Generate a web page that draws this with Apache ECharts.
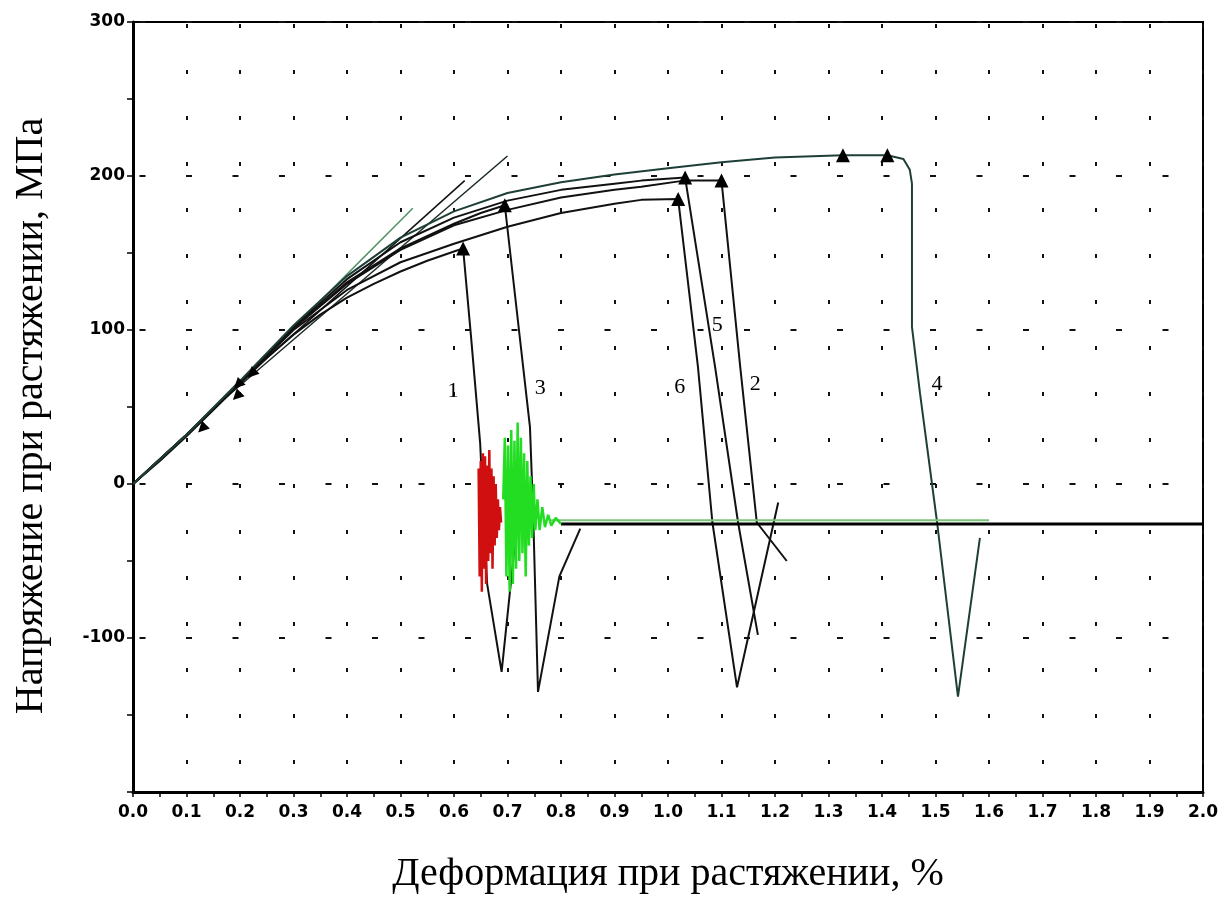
<!DOCTYPE html>
<html lang="ru">
<head>
<meta charset="UTF-8">
<title>Деформация при растяжении</title>
<script src="https://cdn.jsdelivr.net/npm/echarts@6/dist/echarts.min.js"></script>
<style>
  html, body { margin: 0; padding: 0; background: #fff; }
  #main { width: 1229px; height: 899px; }
</style>
</head>
<body>
<div id="main"></div>
<script>
// образцы 1..6: подъём до пика, затем разрыв
var curve1 = [[0,0],[0.05,15],[0.1,31],[0.15,48],[0.2,65],[0.25,82],[0.3,97],[0.35,110],[0.4,121],[0.45,130],[0.5,138],[0.55,145],[0.6,151],[0.617,153],
  [0.632,95],[0.649,26],[0.655,-20],[0.662,-65],[0.689,-122],[0.712,-45],[0.72,-25]];
var curve3 = [[0,0],[0.1,32],[0.2,66],[0.3,101],[0.4,131],[0.5,153],[0.6,169],[0.65,176],[0.695,181],
  [0.742,37],[0.748,-20],[0.757,-135],[0.797,-60],[0.836,-29]];
var curve6 = [[0,0],[0.1,32],[0.2,66],[0.3,100],[0.4,126],[0.5,144],[0.6,156],[0.7,167],[0.8,176],[0.9,182],[0.95,184.5],[1.019,185],
  [1.056,76],[1.083,-25],[1.129,-132],[1.206,-12]];
var curve5 = [[0,0],[0.1,32],[0.2,66],[0.3,102],[0.4,133],[0.5,157],[0.6,173],[0.7,184],[0.8,191],[0.9,195],[0.95,197],[1.032,199],
  [1.088,76],[1.131,-25],[1.168,-98]];
var curve2 = [[0,0],[0.1,32],[0.2,66],[0.3,101],[0.4,130],[0.5,152],[0.6,168],[0.7,178],[0.8,186],[0.9,191],[0.95,193],[1.03,197],[1.10,197],
  [1.135,76],[1.166,-25],[1.222,-50]];
var curve4 = [[0,0],[0.1,32],[0.2,67],[0.3,103],[0.4,135],[0.5,160],[0.6,177],[0.7,189],[0.8,196],[0.9,201],[1.0,205],[1.1,209],[1.2,212],[1.327,213.5],[1.41,213.5],
  [1.44,211],[1.452,204],[1.456,195],[1.456,102],[1.471,59],[1.503,-25],[1.542,-138],[1.583,-35]];

// прямые участки (модуль)
var lineA = [[0.17,55],[0.70,213]];
var lineB = [[0.2,66],[0.62,197]];
var lineC = [[0.25,84],[0.523,179]];

// колебания после разрыва
var redNoise = [[0.646,10],[0.648,-60],[0.650,15],[0.652,-70],[0.654,20],[0.656,-55],[0.658,18],[0.660,-65],[0.662,12],[0.664,-50],[0.666,22],
  [0.668,-45],[0.670,10],[0.672,-55],[0.674,5],[0.676,-40],[0.678,0],[0.680,-35],[0.682,-10],[0.684,-30],[0.686,-15],[0.688,-25]];
var greenNoise = [[0.692,-10],[0.695,30],[0.698,-60],[0.701,25],[0.704,-70],[0.707,35],[0.710,-65],[0.713,28],[0.716,-55],[0.719,40],[0.722,-50],
  [0.725,30],[0.728,-45],[0.731,20],[0.734,-60],[0.737,15],[0.740,-40],[0.743,5],[0.746,-35],[0.749,0],[0.752,-30],[0.756,-10],[0.760,-30],
  [0.765,-15],[0.770,-28],[0.776,-20],[0.782,-27],[0.79,-22],[0.80,-26]];

var baseBlack = [[0.8,-26],[2.0,-26]];
var baseGreen = [[0.78,-23.5],[1.6,-23.5]];

var peaks = [[0.617,153],[0.695,181],[1.019,185],[1.032,199],[1.10,197],[1.327,213.5],[1.41,213.5]];
var arrows = [[0.129,36],[0.196,64.5],[0.222,71.6],[0.194,57]];

var curveLabels = [['1',0.598,60],['3',0.761,62],['6',1.022,63],['5',1.092,103],['2',1.163,64.5],['4',1.503,64.5]];

var myChart = echarts.init(document.getElementById('main'));

function line(data, color, width) {
    return {
        type: 'line', data: data, showSymbol: false, symbol: 'none',
        lineStyle: { color: color, width: width }, z: 3
    };
}

var option = {
    animation: false,
    backgroundColor: '#fff',
    grid: { left: 133, right: 26, top: 22, bottom: 104, show: true, borderColor: '#000', borderWidth: 2 },
    xAxis: {
        type: 'value', min: 0, max: 2, interval: 0.1,
        name: 'Деформация при растяжении, %',
        nameLocation: 'middle', nameGap: 62,
        nameTextStyle: { fontFamily: 'Liberation Serif', fontSize: 40, color: '#000' },
        axisLine: { onZero: false, lineStyle: { color: '#000', width: 3 } },
        axisTick: { length: 5, lineStyle: { color: '#000', width: 1.5 } },
        minorTick: { show: true, splitNumber: 2, length: 5, lineStyle: { color: '#000', width: 1.5 } },
        axisLabel: {
            margin: 12, color: '#000', fontFamily: 'DejaVu Sans', fontWeight: 'bold', fontSize: 17,
            formatter: function (v) { return v.toFixed(1); }
        },
        splitLine: { show: true, lineStyle: { color: '#111', width: 2, type: [4, 42], dashOffset: 44 } }
    },
    yAxis: {
        type: 'value', min: -200, max: 300, interval: 100,
        name: 'Напряжение при растяжении, МПа',
        nameLocation: 'middle', nameGap: 82,
        nameTextStyle: { fontFamily: 'Liberation Serif', fontSize: 40, color: '#000', padding: [0, 18, 0, 0] },
        axisLine: { onZero: false, lineStyle: { color: '#000', width: 3 } },
        axisTick: { length: 6, lineStyle: { color: '#000', width: 1.5 } },
        minorTick: { show: true, splitNumber: 2, length: 6, lineStyle: { color: '#000', width: 1.5 } },
        axisLabel: {
            margin: 8, color: '#000', fontFamily: 'DejaVu Sans', fontWeight: 'bold', fontSize: 17,
            formatter: function (v) { return v === -200 ? '' : String(v); }
        },
        splitLine: { show: true, lineStyle: { color: '#111', width: 2, type: [6, 40.5], dashOffset: 40 } }
    },
    series: [
        line(lineC, '#4f8f62', 1.5),
        line(lineA, '#1a2a24', 1.5),
        line(lineB, '#111', 1.5),
        line(curve1, '#111', 2),
        line(curve3, '#111', 2),
        line(curve6, '#111', 2),
        line(curve5, '#111', 2),
        line(curve2, '#111', 2),
        line(curve4, '#1e3f38', 2),
        line(baseBlack, '#000', 3),
        line(baseGreen, '#7cc47a', 2),
        line(redNoise, '#d01010', 2.5),
        line(greenNoise, '#22dd22', 2.5),
        {
            type: 'scatter', data: peaks, symbol: 'triangle', symbolSize: 14,
            itemStyle: { color: '#000', opacity: 1 }, z: 5
        },
        {
            type: 'scatter', data: arrows, symbol: 'triangle', symbolSize: 11, symbolRotate: 135,
            itemStyle: { color: '#000', opacity: 1 }, z: 5
        },
        {
            type: 'scatter', symbolSize: 0, z: 6,
            itemStyle: { opacity: 1 },
            data: curveLabels.map(function (d) { return { name: d[0], value: [d[1], d[2]] }; }),
            label: {
                show: true, position: 'inside', formatter: '{b}',
                fontFamily: 'Liberation Serif', fontSize: 22, color: '#000'
            }
        }
    ]
};

myChart.setOption(option);
</script>
</body>
</html>
